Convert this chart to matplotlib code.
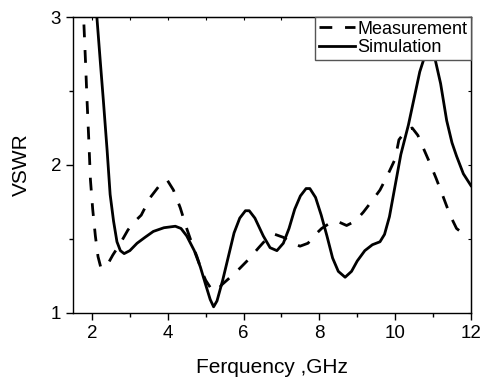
import matplotlib
matplotlib.use('Agg')
import matplotlib.pyplot as plt
from matplotlib.ticker import MultipleLocator

plt.rcParams['font.family'] = ['Liberation Sans', 'DejaVu Sans']

measFreq = [1.72, 1.78, 1.83, 1.87, 1.92, 1.96, 2.02, 2.09, 2.16, 2.23, 2.31, 2.42, 2.55, 2.75, 2.95,
            3.10, 3.30, 3.54, 3.75, 3.98, 4.15, 4.33, 4.50, 4.65, 4.77, 4.90, 5.00, 5.15, 5.30, 5.43,
            5.65, 5.90, 6.13, 6.40, 6.61, 6.83, 7.05, 7.23, 7.49, 7.70, 7.90, 8.06, 8.30, 8.46, 8.72,
            8.95, 9.16, 9.40, 9.60, 9.80, 10.00, 10.10, 10.25, 10.45, 10.60, 10.75, 10.92, 11.08,
            11.23, 11.45, 11.62, 11.72, 11.80]
measVswr = [3.30, 3.00, 2.70, 2.44, 2.15, 1.90, 1.70, 1.52, 1.38, 1.31, 1.30, 1.33, 1.39, 1.47, 1.56,
            1.61, 1.66, 1.78, 1.85, 1.90, 1.83, 1.71, 1.57, 1.46, 1.38, 1.28, 1.22, 1.16, 1.15, 1.19,
            1.24, 1.30, 1.36, 1.44, 1.50, 1.53, 1.51, 1.48, 1.45, 1.47, 1.53, 1.57, 1.61, 1.62, 1.59,
            1.62, 1.68, 1.76, 1.83, 1.93, 2.04, 2.17, 2.22, 2.25, 2.20, 2.11, 2.01, 1.91,
            1.81, 1.66, 1.57, 1.55, 1.56]

# Simulated VSWR (solid).
simFreq = [2.05, 2.13, 2.22, 2.30, 2.40, 2.48, 2.57, 2.66, 2.75, 2.85, 3.00, 3.19, 3.40, 3.62, 3.90,
           4.20, 4.35, 4.50, 4.70, 4.86, 5.00, 5.12, 5.21, 5.30, 5.45, 5.60, 5.75, 5.90, 6.05, 6.15,
           6.30, 6.52, 6.70, 6.88, 7.05, 7.20, 7.35, 7.50, 7.65, 7.75, 7.90, 8.05, 8.20, 8.35, 8.50,
           8.68, 8.85, 9.00, 9.20, 9.40, 9.60, 9.72, 9.85, 10.00, 10.15, 10.35, 10.50, 10.65, 10.80,
           10.92, 11.05, 11.20, 11.36, 11.50, 11.62, 11.80, 12.00]
simVswr = [3.30, 3.00, 2.70, 2.44, 2.10, 1.80, 1.62, 1.48, 1.42, 1.40, 1.42, 1.47, 1.51, 1.55, 1.575,
           1.585, 1.57, 1.52, 1.42, 1.31, 1.19, 1.09, 1.04, 1.08, 1.22, 1.38, 1.54, 1.64, 1.69, 1.69,
           1.64, 1.52, 1.44, 1.42, 1.47, 1.57, 1.70, 1.79, 1.84, 1.84, 1.78, 1.66, 1.52, 1.37, 1.28,
           1.24, 1.28, 1.35, 1.42, 1.46, 1.48, 1.53, 1.65, 1.86, 2.07, 2.27, 2.45, 2.63, 2.75,
           2.78, 2.72, 2.55, 2.30, 2.15, 2.06, 1.94, 1.86]

fig = plt.figure(figsize=(4.85, 3.88), dpi=100)
ax = fig.add_axes([0.1505, 0.194, 0.8205, 0.762])

ax.plot(measFreq, measVswr, color='black', linewidth=2.0, linestyle=(0, (4.6, 4.6)), label='Measurement')
ax.plot(simFreq, simVswr, color='black', linewidth=2.0, label='Simulation')

ax.set_xlim(1.5, 12)
ax.set_ylim(1, 3)
ax.xaxis.set_major_locator(MultipleLocator(2))
ax.xaxis.set_minor_locator(MultipleLocator(1))
ax.yaxis.set_major_locator(MultipleLocator(1))
ax.yaxis.set_minor_locator(MultipleLocator(0.5))
ax.tick_params(which='major', direction='out', length=5, width=1, labelsize=13.5)
ax.tick_params(which='minor', direction='out', length=3, width=1)

# Inward ticks on the top and right edges.
top = ax.secondary_xaxis('top')
top.xaxis.set_major_locator(MultipleLocator(1))
top.tick_params(direction='in', length=2.5, width=0.8, labeltop=False)
right = ax.secondary_yaxis('right')
right.yaxis.set_major_locator(MultipleLocator(0.5))
right.tick_params(direction='in', length=2.5, width=0.8, labelright=False)

for spine in ax.spines.values():
    spine.set_linewidth(1)

ax.set_xlabel('Ferquency ,GHz', fontsize=15, labelpad=12)
ax.set_ylabel('VSWR', fontsize=15, labelpad=14)

leg = ax.legend(loc='upper right', bbox_to_anchor=(1, 1), borderaxespad=0, fontsize=13,
                handlelength=2.0, handletextpad=0.15, borderpad=0.2, labelspacing=0.1,
                fancybox=False, framealpha=1, edgecolor='#555555')
leg.get_frame().set_linewidth(1)

plt.savefig('out.png', dpi=100)
